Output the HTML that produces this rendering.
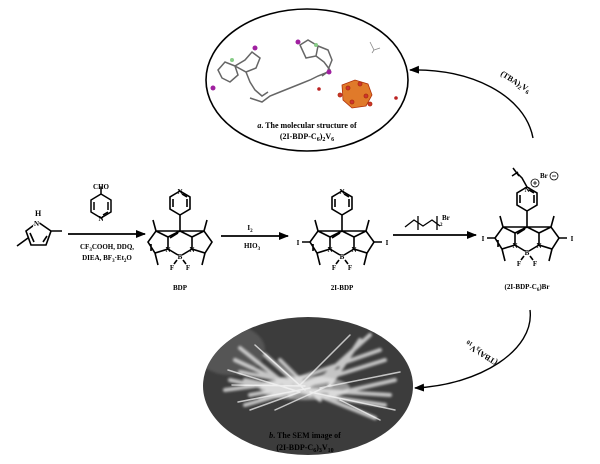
<!DOCTYPE html>
<html><head><meta charset="utf-8"><style>
html,body{margin:0;padding:0;background:#fff}
svg{display:block}
text{font-family:"Liberation Serif",serif;font-weight:bold;fill:#000}
</style></head><body>
<svg width="600" height="464" viewBox="0 0 600 464" xmlns="http://www.w3.org/2000/svg">
<defs>
<g id="core" stroke="#000" stroke-width="1.6" fill="none">
 <path d="M0,0 L-12,6 L-12,18 L-25,22 L-32,11 L-24,0 Z M-12,6 L-24,0 M-29,20 L-29,13 M-24,0 L-27,-11 M-25,22 L-22,34 M-12,18 L-2,24 M0,0 L12,6 L12,18 L25,22 L32,11 L24,0 Z M12,6 L24,0 M24,0 L27,-11 M25,22 L22,34 M12,18 L2,24 M-3,29 L-6,33 M3,29 L6,33 M-2,2 L-10,7"/>
 <path d="M0,0 L0,-16 M0,-16 L10,-22 L10,-34 L0,-40 L-10,-34 L-10,-22 Z M-7,-24 L-7,-32 M7,-24 L7,-32 M2,-37 L7,-34"/>
</g>
<marker id="ah" markerWidth="10" markerHeight="8" refX="9" refY="4" orient="auto" markerUnits="userSpaceOnUse"><path d="M0,0 L10,4 L0,8 Z" fill="#000"/></marker>
<filter id="bl"><feGaussianBlur stdDeviation="1.2"/></filter>
<clipPath id="ec"><ellipse cx="308" cy="386" rx="105" ry="69"/></clipPath>
</defs>

<!-- top ellipse -->
<ellipse cx="307" cy="80" rx="101" ry="71" fill="#fff" stroke="#000" stroke-width="1.6"/>
<g stroke="#666" stroke-width="1.5" fill="none">
 <path d="M218,70 L225,62 L235,66 L238,75 L230,82 L222,78 Z M235,66 L245,60 L252,52 L260,58 L256,68 L246,72 Z M246,72 L250,82 L255,90 L262,96 L268,92"/>
 <path d="M250,98 L262,102 L270,96 L280,92 L290,88 L300,84 L310,80 L318,76 L328,72"/>
 <path d="M300,45 L308,40 L318,46 L316,56 L306,58 Z M316,56 L324,62 L330,70 L322,76 M318,46 L328,50 L332,60 L328,70"/>
</g>
<g fill="#a020a0"><circle cx="213" cy="88" r="2.5"/><circle cx="255" cy="48" r="2.5"/><circle cx="298" cy="42" r="2.5"/><circle cx="329" cy="72" r="2.5"/></g>
<g fill="#8c8"><circle cx="232" cy="60" r="2"/><circle cx="316" cy="45" r="2"/></g>
<g stroke="#b0300a" stroke-width="0.8">
 <path d="M342,85 L355,80 L368,84 L372,95 L366,106 L352,108 L343,100 Z" fill="#e07a2a"/>
 <circle cx="348" cy="88" r="2" fill="#c33"/><circle cx="360" cy="84" r="2" fill="#c33"/><circle cx="366" cy="96" r="2" fill="#c33"/><circle cx="352" cy="102" r="2" fill="#c33"/><circle cx="340" cy="95" r="2" fill="#c33"/><circle cx="370" cy="104" r="2" fill="#c33"/>
</g>
<circle cx="319" cy="89" r="1.8" fill="#b22"/><circle cx="396" cy="98" r="1.8" fill="#b22"/>
<path d="M370,42 L374,50 L380,48 M374,50 L372,53" stroke="#888" stroke-width="0.8" fill="none"/>
<text x="307" y="128" font-size="8" text-anchor="middle"><tspan font-style="italic">a</tspan>. The molecular structure of</text>
<text x="307" y="139" font-size="8" text-anchor="middle">(2I-BDP-C<tspan font-size="6" dy="2">6</tspan><tspan dy="-2">)</tspan><tspan font-size="6" dy="2">2</tspan><tspan dy="-2">V</tspan><tspan font-size="6" dy="2">6</tspan></text>

<!-- top arrow -->
<path d="M533,138 C525,95 470,68 410,70" stroke="#000" stroke-width="1.4" fill="none" marker-end="url(#ah)"/>
<text x="0" y="0" font-size="8" transform="translate(500,75) rotate(32)">(TBA)<tspan font-size="6" dy="2">2</tspan><tspan dy="-2">V</tspan><tspan font-size="6" dy="2">6</tspan></text>

<!-- bottom ellipse -->
<ellipse cx="308" cy="386" rx="105" ry="69" fill="#3c3c3c"/>
<g clip-path="url(#ec)">
<ellipse cx="230" cy="350" rx="35" ry="25" fill="#555" filter="url(#bl)"/>
<g stroke="#e8e8e8" stroke-linecap="round" fill="none" opacity="0.8" filter="url(#bl)">
 <path d="M235,360 L300,390 M240,372 L310,385 M245,380 L320,395 M225,390 L300,380 M250,395 L330,380 M260,400 L340,370 M265,355 L310,395 M280,360 L320,400 M300,378 L380,350 M305,385 L385,360 M310,390 L390,395 M315,395 L385,405 M320,380 L370,335 M330,385 L360,340 M330,395 L395,380 M240,348 L295,392 M230,380 L285,392 M245,405 L305,388 M325,398 L375,418 M290,395 L330,375" stroke-width="4"/>
</g>
<g stroke="#fff" stroke-linecap="round" fill="none" opacity="0.7">
 <path d="M228,370 L300,392 M238,402 L310,388 M255,345 L305,390 M300,385 L350,335 M310,392 L395,410 M320,388 L400,372 M275,410 L330,385 M250,410 L300,392 M340,400 L380,420 M232,385 L305,386" stroke-width="1.5"/>
</g>
<ellipse cx="305" cy="388" rx="45" ry="12" fill="#f0f0f0" opacity="0.5" filter="url(#bl)"/>
</g>
<text x="305" y="438" font-size="8" text-anchor="middle" fill="#111"><tspan font-style="italic">b</tspan>. The SEM image of</text>
<text x="305" y="450" font-size="8" text-anchor="middle" fill="#111">(2I-BDP-C<tspan font-size="6" dy="2">6</tspan><tspan dy="-2">)</tspan><tspan font-size="6" dy="2">3</tspan><tspan dy="-2">V</tspan><tspan font-size="6" dy="2">10</tspan></text>

<!-- bottom arrow -->
<path d="M530,310 C535,350 480,385 415,388" stroke="#000" stroke-width="1.4" fill="none" marker-end="url(#ah)"/>
<text x="0" y="0" font-size="8" transform="translate(498,361) rotate(-148)">(TBA)<tspan font-size="6" dy="2">3</tspan><tspan dy="-2">V</tspan><tspan font-size="6" dy="2">10</tspan></text>

<!-- pyrrole -->
<g stroke="#000" stroke-width="1.6" fill="none">
 <path d="M38,222 L51,231 L46,245 L31,245 L26,231 Z M51,231 L62,231 M47,236 L43,242 M28,238 L17,246 M30,233 L34,242"/>
</g>
<text x="35" y="216" font-size="8">H</text>
<text x="34" y="226" font-size="7" style="paint-order:stroke" stroke="#fff" stroke-width="2">N</text>

<!-- arrow 1 -->
<line x1="68" y1="234" x2="145" y2="234" stroke="#000" stroke-width="1.8" marker-end="url(#ah)"/>
<g stroke="#000" stroke-width="1.5" fill="none" transform="translate(101,212)">
 <path d="M0,-18 L10,-12 L10,0 L0,6 L-10,0 L-10,-12 Z M-7,-10 L-7,-2 M7,-10 L7,-2 M2,3 L7,0 M0,-18 L0,-25"/>
</g>
<text x="101" y="189" font-size="7" text-anchor="middle">CHO</text>
<text x="101" y="221" font-size="7" text-anchor="middle">N</text>
<text x="107" y="249" font-size="7" text-anchor="middle">CF<tspan font-size="5" dy="2">3</tspan><tspan dy="-2">COOH, DDQ,</tspan></text>
<text x="107" y="260" font-size="7" text-anchor="middle">DIEA, BF<tspan font-size="5" dy="2">3</tspan><tspan dy="-2">·Et</tspan><tspan font-size="5" dy="2">2</tspan><tspan dy="-2">O</tspan></text>

<!-- BDP -->
<use href="#core" x="180" y="231"/>
<g font-size="7" text-anchor="middle">
<text x="180" y="194">N</text><text x="168" y="252">N</text><text x="192" y="252">N</text><text x="180" y="259">B</text><text x="172" y="270">F</text><text x="188" y="270">F</text>
</g>
<text x="180" y="290" font-size="7" text-anchor="middle">BDP</text>

<!-- arrow 2 -->
<line x1="221" y1="236" x2="288" y2="236" stroke="#000" stroke-width="1.8" marker-end="url(#ah)"/>
<text x="250" y="230" font-size="7" text-anchor="middle">I<tspan font-size="5" dy="2">2</tspan></text>
<text x="252" y="248" font-size="7" text-anchor="middle">HIO<tspan font-size="5" dy="2">3</tspan></text>

<!-- 2I-BDP -->
<use href="#core" x="342" y="231"/>
<path d="M310,242 L302,242 M374,242 L382,242" stroke="#000" stroke-width="1.5"/>
<g font-size="7" text-anchor="middle">
<text x="342" y="194">N</text><text x="330" y="252">N</text><text x="354" y="252">N</text><text x="342" y="259">B</text><text x="334" y="270">F</text><text x="350" y="270">F</text>
<text x="298" y="245">I</text><text x="387" y="245">I</text>
</g>
<text x="342" y="290" font-size="7" text-anchor="middle">2I-BDP</text>

<!-- arrow 3 -->
<line x1="393" y1="235" x2="476" y2="235" stroke="#000" stroke-width="1.8" marker-end="url(#ah)"/>
<path d="M405,227 L414,220 L423,226 L432,220 L440,226 M418,216 L418,230 M437,216 L437,230" stroke="#000" stroke-width="1.3" fill="none"/>
<text x="440" y="226" font-size="5">2</text>
<text x="442" y="220" font-size="7">Br</text>

<!-- product -->
<use href="#core" x="527" y="227"/>
<path d="M495,238 L487,238 M559,238 L567,238 M527,187 L522,178 L516,172 M513,168 L519,176 M512,176 L518,172" stroke="#000" stroke-width="1.5" fill="none"/>
<g font-size="7" text-anchor="middle">
<text x="527" y="192">N</text><text x="515" y="248">N</text><text x="539" y="248">N</text><text x="527" y="255">B</text><text x="519" y="266">F</text><text x="535" y="266">F</text>
<text x="483" y="241">I</text><text x="572" y="241">I</text>
</g>
<circle cx="535" cy="183" r="4" fill="none" stroke="#000" stroke-width="0.8"/><path d="M533,183 h4 M535,181 v4" stroke="#000" stroke-width="0.8"/>
<text x="540" y="178" font-size="7">Br</text>
<circle cx="554" cy="176" r="4" fill="none" stroke="#000" stroke-width="0.8"/><path d="M552,176 h4" stroke="#000" stroke-width="0.8"/>
<text x="527" y="289" font-size="7" text-anchor="middle">(2I-BDP-C<tspan font-size="5" dy="2">6</tspan><tspan dy="-2">)Br</tspan></text>
</svg>
</body></html>
